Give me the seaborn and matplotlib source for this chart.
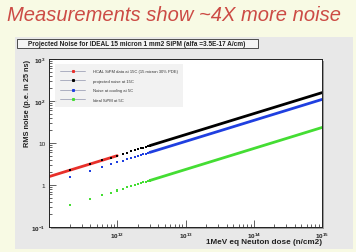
import numpy as np
import pandas as pd
import matplotlib
matplotlib.use("Agg")
import matplotlib.pyplot as plt
import seaborn as sns
from matplotlib.lines import Line2D
from matplotlib.patches import Rectangle
from matplotlib.ticker import FixedLocator, LogLocator, NullFormatter

# --- data ---
series_names = ["HCAL SiPM data at 15C (15 micron 30% PDE)",
                "projected noise at 15C",
                "Noise at cooling at 5C",
                "Ideal SiPM at 5C"]
series_colors = ["#e8302a", "#000000", "#1f3fe0", "#44dd33"]

# measured (red) curve
red_dose = [1e11, 2e11, 4e11, 6e11, 8e11, 1e12]
red_noise = [1.58, 2.24, 3.16, 3.87, 4.47, 5.0]

# sparse markers at low dose
dose_pts = [2e11, 4e11, 6e11, 8e11, 1e12, 1.2e12, 1.4e12, 1.6e12,
            1.8e12, 2e12, 2.2e12, 2.4e12, 2.6e12, 2.8e12, 3e12]
black_pts = [2.24, 3.16, 3.87, 4.47, 5.0, 5.48, 5.92, 6.32,
             6.71, 7.07, 7.42, 7.75, 8.06, 8.37, 8.66]
blue_pts = [1.54, 2.18, 2.67, 3.09, 3.45, 3.78, 4.08, 4.36,
            4.63, 4.88, 5.12, 5.34, 5.56, 5.77, 5.98]
green_pts = [0.33, 0.47, 0.57, 0.66, 0.74, 0.81, 0.88, 0.94,
             0.99, 1.05, 1.10, 1.15, 1.19, 1.24, 1.28]

# markers merge into a solid line at high dose
dose_line = [3e12, 1e13, 1e14, 1e15]
black_line = [8.66, 15.8, 50.0, 158.0]
blue_line = [5.98, 10.9, 34.5, 109.0]
green_line = [1.28, 2.34, 7.4, 23.4]

x_ticks = [1e12, 1e13, 1e14, 1e15]
x_ticklabels = ["$10^{12}$", "$10^{13}$", "$10^{14}$", "$10^{15}$"]
y_ticks = [0.1, 1, 10, 100, 1000]
y_ticklabels = ["$10^{-1}$", "1", "10", "$10^{2}$", "$10^{3}$"]

sns.set_style("white")
plt.rcParams['font.family'] = ['Liberation Sans', 'DejaVu Sans']
plt.rcParams['mathtext.fontset'] = 'custom'
plt.rcParams['mathtext.rm'] = 'Liberation Sans:bold'
plt.rcParams['mathtext.it'] = 'Liberation Sans:bold'

W, H = 356, 253
fig = plt.figure(figsize=(W / 100, H / 100), dpi=100)
fig.patch.set_facecolor("#f8fae4")

def px(x0, y0, x1, y1):
    return [x0 / W, 1 - y1 / H, (x1 - x0) / W, (y1 - y0) / H]

# slide title
fig.text(7 / W, 1 - 15.5 / H, "Measurements show ~4X more noise", color="#cc4b45",
         fontsize=14.5, style="italic", ha="left", va="center")

# ROOT canvas panel
fig.patches.append(Rectangle((15 / W, 1 - 250 / H), 338 / W, 212 / H,
                             transform=fig.transFigure, facecolor="#e8e8e8",
                             edgecolor="none", zorder=-2))
# histogram title box
fig.patches.append(Rectangle((17 / W, 1 - 49 / H), 241 / W, 9 / H,
                             transform=fig.transFigure, facecolor="#f4f4f4",
                             edgecolor="#333333", linewidth=0.6, zorder=-1))
fig.text(137 / W, 1 - 44.5 / H,
         "Projected Noise for IDEAL 15 micron 1 mm2 SiPM (alfa =3.5E-17 A/cm)",
         fontsize=4.7, weight="bold", ha="center", va="center", color="#222222")

# shadow of the pad frame
fig.patches.append(Rectangle((51 / W, 1 - 230 / H), 273 / W, 168 / H,
                             transform=fig.transFigure, facecolor="#9a9a9a",
                             edgecolor="none", zorder=-1))

ax = fig.add_axes(px(49, 60, 322, 228))
ax.set_zorder(2)
ax.set_facecolor("white")

pts = pd.DataFrame({
    "dose": dose_pts * 3,
    "noise": black_pts + blue_pts + green_pts,
    "series": [series_names[1]] * len(dose_pts) + [series_names[2]] * len(dose_pts)
              + [series_names[3]] * len(dose_pts),
})
lines = pd.DataFrame({
    "dose": dose_line * 3,
    "noise": black_line + blue_line + green_line,
    "series": [series_names[1]] * len(dose_line) + [series_names[2]] * len(dose_line)
              + [series_names[3]] * len(dose_line),
})
pal = dict(zip(series_names, series_colors))

sns.lineplot(x=red_dose, y=red_noise, color=series_colors[0], linewidth=2.0,
             ax=ax, zorder=2)
sns.lineplot(data=lines, x="dose", y="noise", hue="series", palette=pal,
             linewidth=2.0, estimator=None, sort=False, legend=False, ax=ax, zorder=3)
sns.scatterplot(data=pts, x="dose", y="noise", hue="series", palette=pal,
                s=2.2, linewidth=0, marker="s", legend=False, ax=ax, zorder=4)

ax.set_xscale("log")
ax.set_yscale("log")
ax.set_xlim(1e11, 1e15)
ax.set_ylim(0.1, 1000)

ax.xaxis.set_major_locator(FixedLocator(x_ticks))
ax.set_xticklabels(x_ticklabels)
ax.yaxis.set_major_locator(FixedLocator(y_ticks))
ax.set_yticklabels(y_ticklabels)
ax.xaxis.set_minor_locator(LogLocator(base=10, subs=np.arange(2, 10)))
ax.yaxis.set_minor_locator(LogLocator(base=10, subs=np.arange(2, 10)))
ax.xaxis.set_minor_formatter(NullFormatter())
ax.yaxis.set_minor_formatter(NullFormatter())
ax.tick_params(which="both", direction="in", left=True, bottom=True,
               top=False, right=False, color="#222222", width=0.5)
ax.tick_params(which="major", length=5, labelsize=4.6, pad=2.5, labelcolor="#222222")
ax.tick_params(which="minor", length=2.5)
for s in ax.spines.values():
    s.set_linewidth(0.7)
    s.set_color("#222222")

ax.set_xlabel("")
ax.set_ylabel("")
fig.text(322 / W, 1 - 243 / H, "1MeV eq Neuton dose (n/cm2)", fontsize=5.9,
         weight="bold", ha="right", va="center", color="#222222")
fig.text(28 / W, 1 - 60 / H, "RMS noise (p.e. in 25 ns)", fontsize=5.3,
         weight="bold", rotation=90, ha="center", va="top", color="#222222")

handles = [Line2D([0], [0], color="#a0a4b8", linewidth=0.6, marker="s",
                  markersize=1.2, markerfacecolor=c, markeredgecolor=c)
           for c in series_colors]
leg = ax.legend(handles, series_names, loc="upper left",
                bbox_to_anchor=(6 / 273, 1 - 5 / 168), fontsize=3,
                handlelength=6, handletextpad=2, labelspacing=1.35,
                borderpad=1.2, borderaxespad=0, frameon=True, fancybox=False)
leg.get_frame().set_facecolor("#efefef")
leg.get_frame().set_edgecolor("none")
for t in leg.get_texts():
    t.set_color("#333333")

fig.savefig("out.png", dpi=100, facecolor=fig.get_facecolor())
